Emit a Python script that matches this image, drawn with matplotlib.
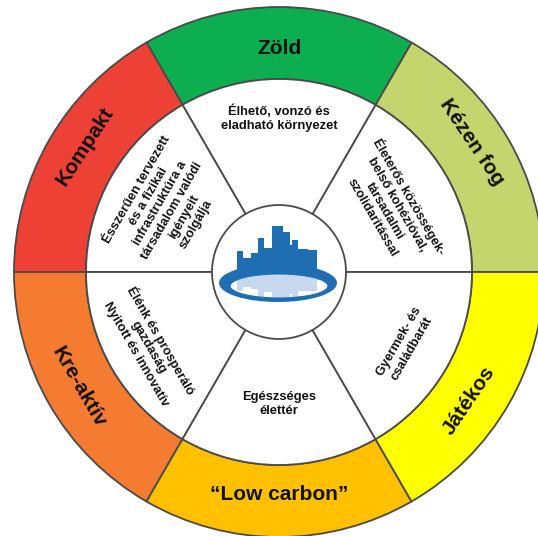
import numpy as np
import matplotlib
matplotlib.use("Agg")
import matplotlib.pyplot as plt
from matplotlib.patches import Circle, Ellipse, Rectangle

plt.rcParams['font.family'] = ['Liberation Sans', 'DejaVu Sans']

# ---- data ----
outer_labels = ["Kézen fog", "Zöld", "Kompakt", "Kre-aktív", "“Low carbon”", "Játékos"]
outer_colors = ["#C3D56C", "#0DAE50", "#EE4136", "#F47B30", "#FFC000", "#FFFF00"]
segment_sizes = [1, 1, 1, 1, 1, 1]
inner_texts = [
    "Életerős közösségek-\nbelső kohézióval,\ntársadalmi\nszolidaritással",
    "Élhető, vonzó és\neladható környezet",
    "Ésszerűen tervezett\nés a fizikai\ninfrastruktúra a\ntársadalom valódi\nigényeit\nszolgálja",
    "Élénk és prosperáló\ngazdaság\nNyitott és innovatív",
    "Egészséges\nélettér",
    "Gyermek- és\ncsaládbarát",
]
# skyline of the logo: (left, right, height) relative to hub centre
skyline = [(-42.3, -35.7, 21), (-35.7, -28.3, 13.7), (-28.3, -21.3, 18.7),
           (-21.3, -14.7, 34.3), (-14.7, -7.3, 23.7), (-7.3, 4.3, 46),
           (4.3, 11.0, 40.3), (11.0, 13.3, 27), (13.3, 19.3, 32),
           (19.3, 29.3, 22.7), (29.3, 37.7, 22)]

# ---- layout ----
W, H = 538, 536
cx, cy = 279, H - 272
R_out, R_in, R_hub = 265, 193, 67
edge = "#4a4a4a"
outer_ang = [34, 90, 147, 210, 270, 326]
outer_r = [232, 223, 231, 231, 222, 229]
inner_ang = [30, 90, 150, 210, 270, 330]
inner_r = [130, 154, 130, 150, 132, 146]
inner_fs = [9.3, 9.3, 9.4, 9.3, 9.3, 9.3]

fig = plt.figure(figsize=(W / 100, H / 100), dpi=100)
ax = fig.add_axes([0, 0, 1, 1])

ax.pie(segment_sizes, radius=R_out, center=(cx, cy), startangle=0, counterclock=True,
       colors=outer_colors, frame=True,
       wedgeprops=dict(width=R_out - R_in, edgecolor=edge, linewidth=1.3))
ax.pie(segment_sizes, radius=R_in, center=(cx, cy), startangle=0, counterclock=True,
       colors=["white"] * 6, frame=True,
       wedgeprops=dict(edgecolor=edge, linewidth=1.3))
ax.add_patch(Circle((cx, cy), R_hub, facecolor="white", edgecolor=edge, linewidth=1.3, zorder=3))


def tangent_rot(deg):
    rot = deg - 90 if np.sin(np.deg2rad(deg)) > 0 else deg + 90
    return (rot + 180) % 360 - 180


# outer labels
for i, lab in enumerate(outer_labels):
    deg = outer_ang[i]
    th = np.deg2rad(deg)
    ax.text(cx + outer_r[i] * np.cos(th), cy + outer_r[i] * np.sin(th), lab,
            rotation=tangent_rot(deg), rotation_mode="anchor", ha="center", va="center",
            fontsize=15, fontweight="bold", color="#111111", zorder=5)

# inner texts
for i, txt in enumerate(inner_texts):
    deg = inner_ang[i]
    th = np.deg2rad(deg)
    ax.text(cx + inner_r[i] * np.cos(th), cy + inner_r[i] * np.sin(th), txt,
            rotation=tangent_rot(deg), rotation_mode="anchor", ha="center", va="center",
            multialignment="center", linespacing=1.2,
            fontsize=inner_fs[i], fontweight="bold", color="#111111", zorder=5)

# logo
dark = "#1F6EB4"
light = "#C6D9EE"
for (x0, x1, h) in skyline:
    ax.add_patch(Rectangle((cx + x0, cy - 8), x1 - x0, h + 8, facecolor=dark,
                           edgecolor="none", zorder=4))
ax.add_patch(Ellipse((cx - 1, cy - 11), 118, 38, facecolor=dark, edgecolor="none", zorder=4))
inner_ell = Ellipse((cx, cy - 14), 98, 24, facecolor="white", edgecolor="none", zorder=4.1)
ax.add_patch(inner_ell)
band = Rectangle((cx - 50, cy - 8), 100, 6, facecolor=light, edgecolor="none", zorder=4.2)
ax.add_patch(band)
band.set_clip_path(inner_ell)
for (x0, x1, h) in skyline:
    depth = 4 + 0.55 * h
    r = Rectangle((cx + x0, cy - 3 - depth), x1 - x0, depth, facecolor=light,
                  edgecolor="none", zorder=4.2)
    ax.add_patch(r)
    r.set_clip_path(inner_ell)
ax.add_patch(Ellipse((cx, cy - 14), 98, 24, facecolor="none", edgecolor=dark,
                     linewidth=0.8, zorder=4.3))

ax.set_xlim(0, W)
ax.set_ylim(0, H)
ax.set_aspect("equal")
ax.axis("off")
fig.savefig("out.png", dpi=100)
